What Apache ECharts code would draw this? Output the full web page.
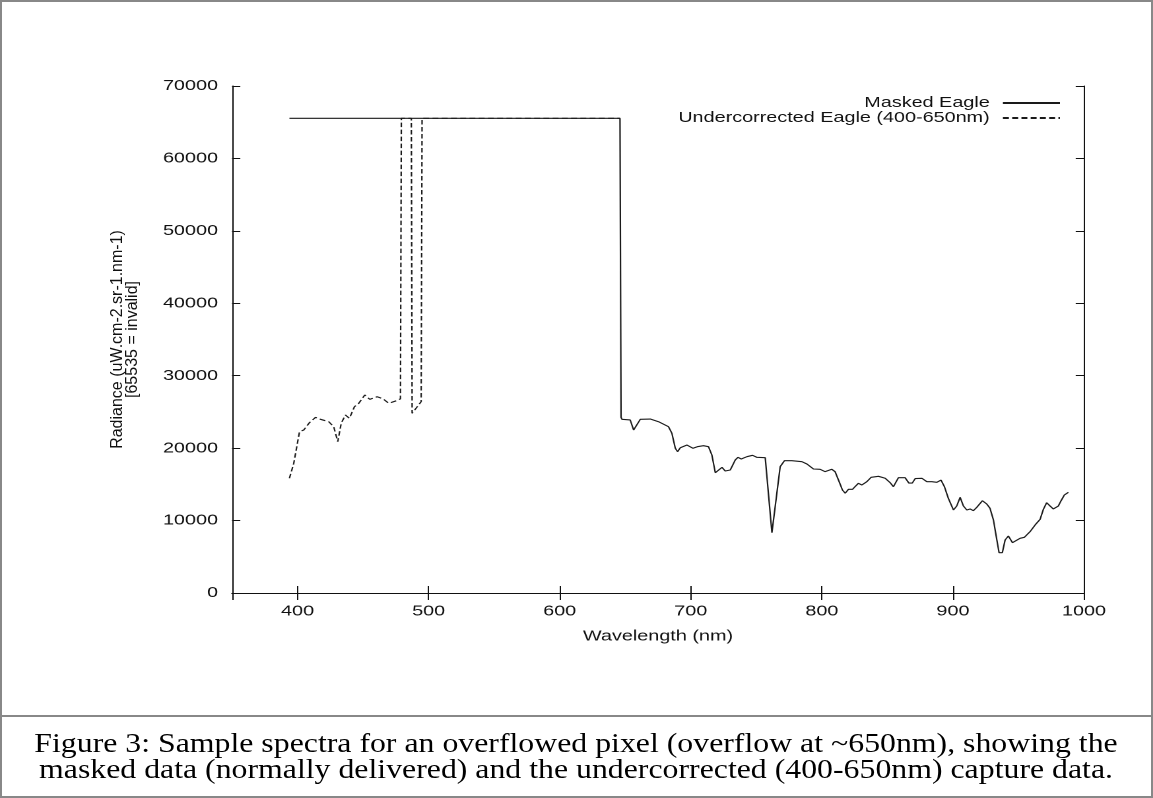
<!DOCTYPE html>
<html>
<head>
<meta charset="utf-8">
<script src="https://cdn.jsdelivr.net/npm/echarts@6/dist/echarts.min.js"></script>
<style>
html,body{margin:0;padding:0;background:#fff;}
#page{position:relative;width:1153px;height:798px;overflow:hidden;}
#frame{position:absolute;left:0;top:0;width:1153px;height:798px;z-index:1;}
#chart{position:absolute;left:0;top:0;width:874px;height:716px;z-index:2;
       transform:scaleX(1.32);transform-origin:0 0;}
</style>
</head>
<body>
<div id="page">
  <div id="frame"></div>
  <div id="chart"></div>
</div>
<script>
// ---- data ----
const maskedWl = [393.8, 646, 646.8, 647.5, 653.8, 656.4, 661.5, 669.1, 675.4, 683, 685.6, 688.2, 689.9, 692, 697.1, 701.7, 705, 709.7, 713.5, 716.1, 718.7, 723.8, 726.3, 730.1, 733.9, 736, 738.5, 742.8, 747.1, 750.5, 756.8, 761.9, 768.2, 771.5, 777.1, 784.8, 788.6, 793.6, 798.7, 802.5, 807.6, 810.1, 813.2, 815.7, 817.8, 820.3, 823.4, 825.4, 827.9, 830.5, 834.3, 837.6, 843.2, 848.3, 852.1, 854.6, 858.4, 863.5, 866.4, 869, 871.2, 876.3, 880.1, 883.9, 887.7, 890.9, 893.5, 896.5, 900.4, 902.9, 905.5, 908, 910.6, 913.1, 915.6, 918.2, 922.5, 925.8, 928.3, 930.9, 933.5, 935.2, 937.7, 939.8, 942.3, 945.4, 947.4, 951.2, 954.5, 958.8, 962.7, 966.5, 969, 971.5, 974.1, 976.6, 980.4, 982.5, 985, 988.1];
const maskedVal = [65535, 65535, 24260, 23980, 23890, 22500, 23980, 24020, 23650, 22960, 22050, 19980, 19510, 20060, 20430, 19980, 20200, 20340, 20200, 19050, 16610, 17350, 16840, 16980, 18360, 18730, 18500, 18820, 19010, 18730, 18680, 8330, 17440, 18270, 18270, 18130, 17810, 17120, 17080, 16750, 17080, 16750, 15370, 14220, 13770, 14320, 14320, 14700, 15150, 14910, 15370, 15970, 16110, 15840, 15230, 14680, 15920, 15920, 15180, 15180, 15800, 15840, 15370, 15370, 15280, 15600, 14680, 13070, 11460, 12010, 13210, 12010, 11460, 11600, 11360, 11830, 12740, 12290, 11690, 10080, 7320, 5570, 5570, 7320, 7870, 6950, 7000, 7550, 7690, 8460, 9390, 10170, 11560, 12470, 12010, 11600, 12010, 12740, 13530, 13900];

const underWl = [393.8, 397.1, 401.5, 404.7, 409, 413.7, 417.5, 423.8, 427.6, 430.7, 433.3, 436.5, 439.6, 443.4, 446.7, 451.3, 455.1, 460.7, 465.3, 469.6, 474.7, 478.5, 479.2, 486.8, 487.4, 494.3, 495, 646];
const underVal = [15840, 17900, 22270, 22500, 23500, 24250, 23980, 23650, 22960, 20890, 23430, 24570, 24120, 25720, 26190, 27340, 26740, 27100, 26800, 26190, 26500, 26800, 65535, 65535, 24810, 26420, 65535, 65535];

const xTickLabels = [400, 500, 600, 700, 800, 900, 1000];
const yTickLabels = [0, 10000, 20000, 30000, 40000, 50000, 60000, 70000];

const seriesNames = ['Masked Eagle', 'Undercorrected Eagle (400-650nm)'];
const xTitle = 'Wavelength (nm)';
const yTitle = 'Radiance (uW.cm-2.sr-1.nm-1)\n[65535 = invalid]';
const caption = 'Figure 3: Sample spectra for an overflowed pixel (overflow at ~650nm), showing the\nmasked data (normally delivered) and the undercorrected (400-650nm) capture data.';

// ---- layout (the plot is drawn in a horizontally stretched frame, like the original EPS) ----
const SX = 1.32;
const SANS = '"Liberation Sans", Arial, Helvetica, sans-serif';
const INK = '#111';
const PLOT_L = 232 / SX, PLOT_W = 852 / SX, PLOT_T = 86, PLOT_H = 507;
const pairs = (xs, ys) => xs.map((x, i) => [x, ys[i]]);

function xAx(extra) {
  return Object.assign({
    type: 'value', min: 350, max: 1000,
    axisLine: { show: true, lineStyle: { color: INK, width: 1 } },
    axisTick: { show: false },
    axisLabel: { show: false },
    splitLine: { show: false }
  }, extra);
}
function yAx(extra) {
  return Object.assign({
    type: 'value', min: 0, max: 70000, interval: 10000,
    axisLine: { show: true, lineStyle: { color: INK, width: 1 } },
    axisTick: { show: false },
    axisLabel: { show: false },
    splitLine: { show: false }
  }, extra);
}
// tick-only axes on the opposite side of the box: their outward ticks point into the plot
const xTicks = { axisLine: { show: false }, axisTick: { show: true, inside: false, length: 7, lineStyle: { color: INK, width: 1 } } };
const yTicks = { axisLine: { show: false }, axisTick: { show: true, inside: false, length: 6.3, lineStyle: { color: INK, width: 1 } } };

const chart = echarts.init(document.getElementById('chart'), null, { renderer: 'canvas', devicePixelRatio: 2 });
chart.setOption({
  animation: false,
  grid: { left: PLOT_L, top: PLOT_T, width: PLOT_W, height: PLOT_H, containLabel: false },
  xAxis: [
    xAx({
      position: 'bottom',
      name: xTitle, nameLocation: 'middle', nameGap: 36,
      nameTextStyle: { fontFamily: SANS, fontSize: 15, color: INK },
      axisLabel: {
        show: true, margin: 11, fontFamily: SANS, fontSize: 15, color: INK,
        formatter: v => xTickLabels.indexOf(v) >= 0 ? String(v) : ''
      }
    }),
    xAx({ position: 'top' }),
    xAx(Object.assign({ position: 'top', offset: -PLOT_H }, xTicks)),
    xAx(Object.assign({ position: 'bottom', offset: -PLOT_H }, xTicks))
  ],
  yAxis: [
    yAx({
      position: 'left',
      axisLabel: {
        show: true, margin: 10.6, fontFamily: SANS, fontSize: 15, color: INK,
        formatter: v => yTickLabels.indexOf(v) >= 0 ? String(v) : ''
      }
    }),
    yAx({ position: 'right' }),
    yAx(Object.assign({ position: 'right', offset: -PLOT_W }, yTicks)),
    yAx(Object.assign({ position: 'left', offset: -PLOT_W }, yTicks))
  ],
  legend: {
    orient: 'vertical', right: 70, top: 95.5, align: 'right', padding: 0,
    itemWidth: 43.2, itemHeight: 15, itemGap: 0,
    itemStyle: { color: 'rgba(0,0,0,0)', borderWidth: 0, opacity: 0 },
    textStyle: { fontFamily: SANS, fontSize: 15, color: INK, lineHeight: 15, padding: [0, 5, 0, 0] },
    data: seriesNames
  },
  series: [
    {
      name: seriesNames[0], type: 'line', xAxisIndex: 0, yAxisIndex: 0,
      data: pairs(maskedWl, maskedVal),
      symbol: 'none', showSymbol: false, smooth: false,
      lineStyle: { color: '#1a1a1a', width: 1.1, type: 'solid' },
      itemStyle: { color: '#1a1a1a' }
    },
    {
      name: seriesNames[1], type: 'line', xAxisIndex: 0, yAxisIndex: 0,
      data: pairs(underWl, underVal),
      symbol: 'none', showSymbol: false, smooth: false,
      lineStyle: { color: '#1a1a1a', width: 1.1, type: [4.5, 2.5] },
      itemStyle: { color: '#1a1a1a' }
    }
  ]
});

// unstretched page layer: frame, rotated y-axis title, caption
const frame = echarts.init(document.getElementById('frame'), null, { renderer: 'canvas' });
frame.setOption({
  animation: false,
  backgroundColor: '#fff',
  graphic: [
    { type: 'rect', silent: true, shape: { x: 1, y: 1, width: 1151, height: 796 },
      style: { fill: 'none', stroke: '#888', lineWidth: 2 } },
    { type: 'line', silent: true, shape: { x1: 1, y1: 716, x2: 1152, y2: 716 },
      style: { stroke: '#888', lineWidth: 2 } },
    { type: 'text', silent: true, x: 125, y: 339.5, rotation: Math.PI / 2,
      style: { text: yTitle, fontFamily: SANS, fontSize: 16, lineHeight: 15,
               align: 'center', verticalAlign: 'middle', fill: INK } },
    { type: 'text', silent: true, x: 576, y: 758, scaleX: 1.136,
      style: { text: caption, fontFamily: '"Liberation Serif", "Times New Roman", serif', fontSize: 28,
               lineHeight: 26, align: 'center', verticalAlign: 'middle', fill: '#000' } }
  ]
});
</script>
</body>
</html>
